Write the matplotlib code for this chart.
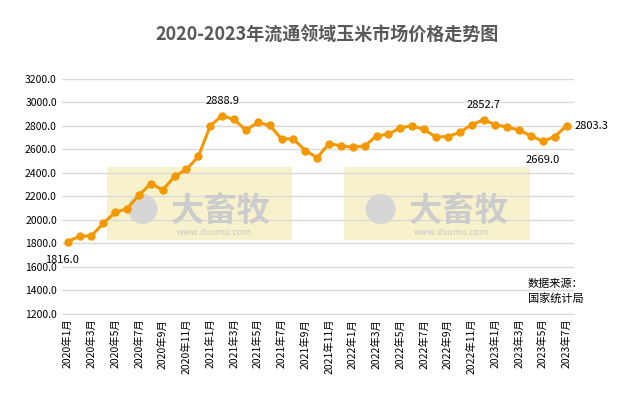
import matplotlib.pyplot as plt
from matplotlib.patches import Rectangle

plt.rcParams['font.family'] = ['Noto Sans CJK SC', 'DejaVu Sans']

months = [f"{y}年{m}月" for y in range(2020, 2024) for m in range(1, 13)][:43]
prices = [1816.0, 1860, 1865, 1970, 2065, 2095, 2210, 2310, 2255, 2370, 2430, 2540,
          2800, 2888.9, 2855, 2765, 2830, 2805, 2690, 2690, 2590, 2530, 2650, 2630,
          2620, 2630, 2715, 2730, 2785, 2800, 2770, 2705, 2710, 2745, 2810, 2852.7,
          2810, 2790, 2765, 2715, 2669.0, 2710, 2803.3]
labelled = {0: 'below', 13: 'above', 35: 'above', 40: 'below', 42: 'right'}

fig = plt.figure(figsize=(6.17, 4.05), dpi=100)
ax = fig.add_axes([0.1, 0.225, 0.83, 0.58])
x = list(range(len(prices)))

# watermarks
for x0 in [3.3, 23.3]:
    ax.add_patch(Rectangle((x0, 1830), 15.6, 620, color='#f5efc0', alpha=0.8, zorder=0, lw=0))
    ax.text(x0 + 3.0, 2060, '●', fontsize=24, color='#d6d6d6', ha='center', va='center', zorder=1)
    ax.text(x0 + 9.6, 2070, '大畜牧', fontsize=24, color='#cccccc', ha='center', va='center',
            zorder=1, fontweight='bold')
    ax.text(x0 + 9.0, 1895, 'www.dxumu.com', fontsize=6.5, color='#c8c8c8', ha='center', va='center', zorder=1)

ax.plot(x, prices, color='#f39800', lw=2.2, marker='o', ms=5, zorder=3)
for i, pos in labelled.items():
    v = prices[i]
    if pos == 'below':
        dx = -4 if i == 0 else 0
        ax.annotate(f"{v:.1f}", (i, v), xytext=(dx, -10), textcoords='offset points', ha='center', va='top', fontsize=8)
    elif pos == 'above':
        ax.annotate(f"{v:.1f}", (i, v), xytext=(0, 7), textcoords='offset points', ha='center', va='bottom', fontsize=8)
    else:
        ax.annotate(f"{v:.1f}", (i, v), xytext=(6, 0), textcoords='offset points', ha='left', va='center', fontsize=8)

ax.set_ylim(1200, 3200)
ax.set_yticks(range(1200, 3201, 200))
ax.set_yticklabels([f"{t:.1f}" for t in range(1200, 3201, 200)], fontsize=7.5)
ax.set_xlim(-0.5, 42.6)
ax.set_xticks(x[::2])
ax.set_xticklabels(months[::2], rotation=90, fontsize=7.5)
ax.grid(axis='y', color='#d9d9d9', lw=1)
ax.set_axisbelow(True)
for s in ax.spines.values():
    s.set_visible(False)
ax.spines['bottom'].set_visible(True)
ax.spines['bottom'].set_color('#d9d9d9')
ax.tick_params(length=0)

fig.text(0.53, 0.9, '2020-2023年流通领域玉米市场价格走势图', ha='center', fontsize=13,
         fontweight='bold', color='#595959')
fig.text(0.855, 0.255, '数据来源：\n国家统计局', fontsize=8, linespacing=1.4)

fig.savefig('out.png', dpi=100)
